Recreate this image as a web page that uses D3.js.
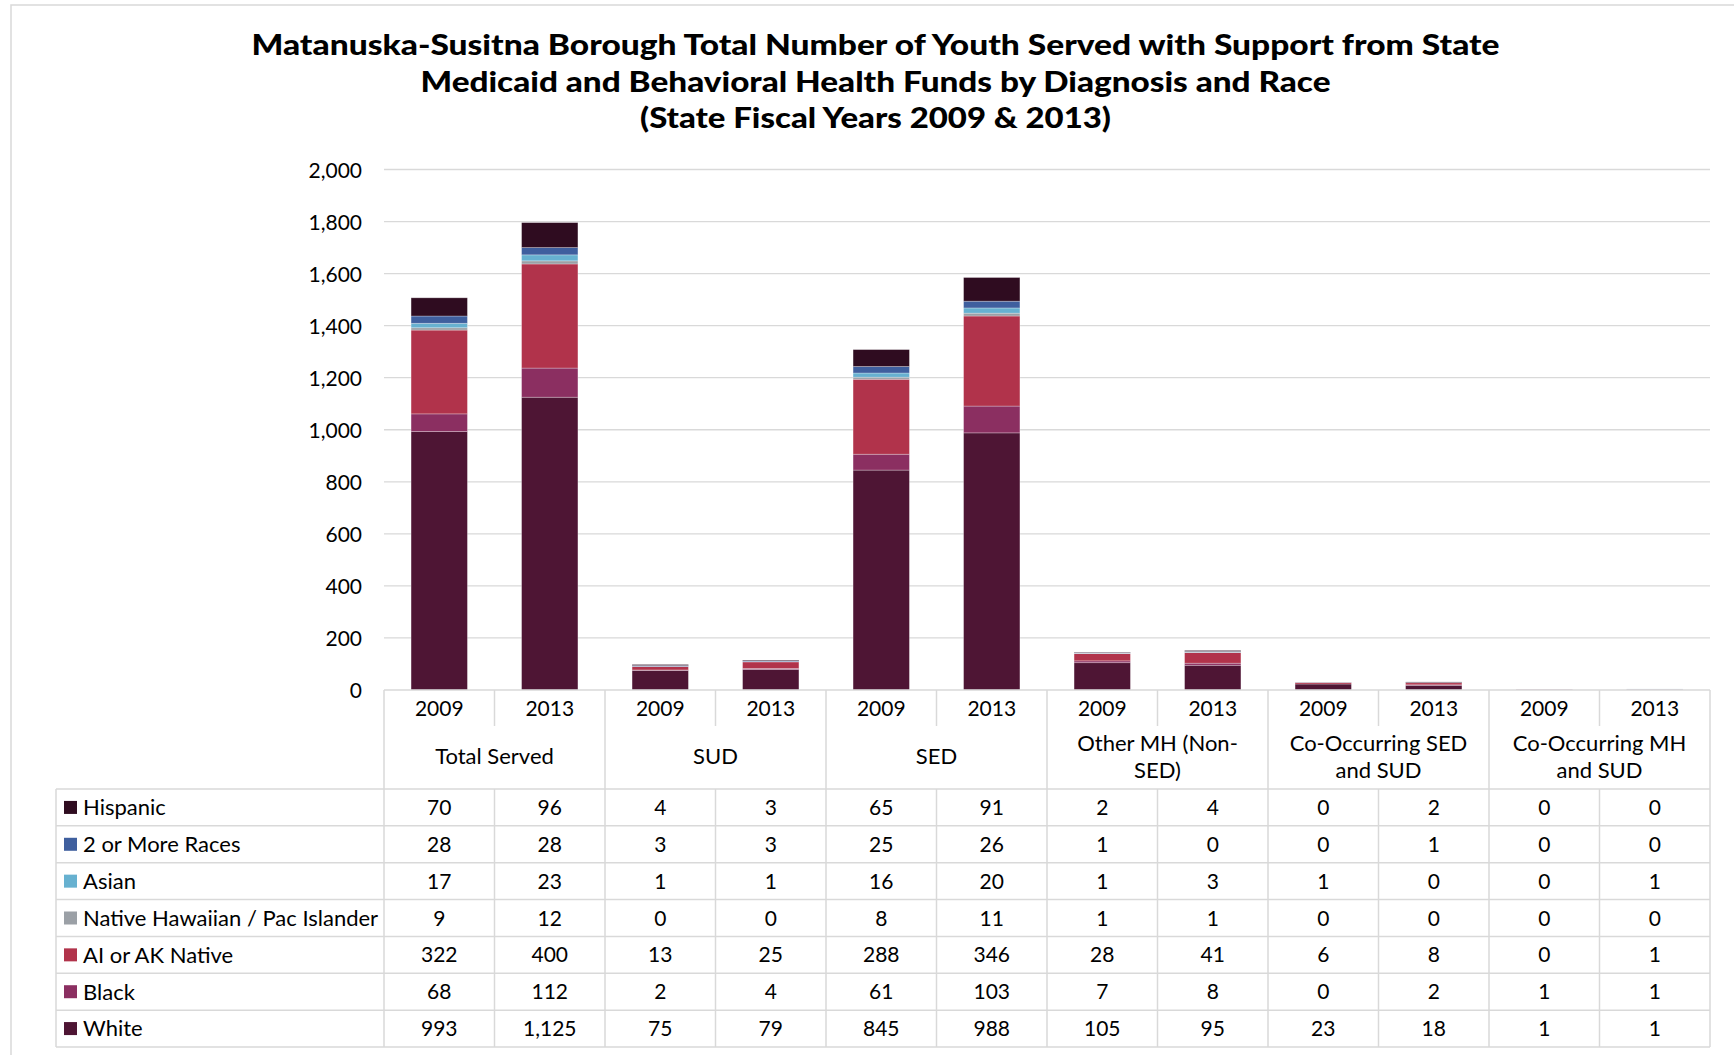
<!DOCTYPE html>
<html>
<head>
<meta charset="utf-8">
<script src="https://cdn.jsdelivr.net/npm/d3@7"></script>
<style>
  html, body { margin: 0; padding: 0; background: #fff; }
  svg { display: block; }
  text { font-family: Lato, "Open Sans", sans-serif; fill: #000; }
</style>
</head>
<body>
<svg id="chart" width="1734" height="1055"></svg>
<script>
// ---------- DATA ----------
const titleLines = [
  "Matanuska-Susitna Borough Total Number of Youth Served with Support from State",
  "Medicaid and Behavioral Health Funds by Diagnosis and Race",
  "(State Fiscal Years 2009 & 2013)"
];
const categories = ["Total Served", "SUD", "SED", "Other MH (Non-SED)", "Co-Occurring SED and SUD", "Co-Occurring MH and SUD"];
const categoryLabelLines = [["Total Served"], ["SUD"], ["SED"], ["Other MH (Non-", "SED)"], ["Co-Occurring SED", "and SUD"], ["Co-Occurring MH", "and SUD"]];
const years = ["2009", "2013"];
const yTicks = [0, 200, 400, 600, 800, 1000, 1200, 1400, 1600, 1800, 2000];

// series listed in legend order (top of stack first)
const seriesNames = ["Hispanic", "2 or More Races", "Asian", "Native Hawaiian / Pac Islander", "AI or AK Native", "Black", "White"];
const seriesColors = ["#2f0c20", "#3f5f9e", "#67b1d0", "#9ba0a6", "#b1334b", "#8b2f61", "#4e1534"];
// values per column: Total 09, Total 13, SUD 09, SUD 13, SED 09, SED 13, Other 09, Other 13, CoSED 09, CoSED 13, CoMH 09, CoMH 13
const hispanic   = [70, 96, 4, 3, 65, 91, 2, 4, 0, 2, 0, 0];
const twoOrMore  = [28, 28, 3, 3, 25, 26, 1, 0, 0, 1, 0, 0];
const asian      = [17, 23, 1, 1, 16, 20, 1, 3, 1, 0, 0, 1];
const nativeHaw  = [9, 12, 0, 0, 8, 11, 1, 1, 0, 0, 0, 0];
const aiakNative = [322, 400, 13, 25, 288, 346, 28, 41, 6, 8, 0, 1];
const black      = [68, 112, 2, 4, 61, 103, 7, 8, 0, 2, 1, 1];
const white      = [993, 1125, 75, 79, 845, 988, 105, 95, 23, 18, 1, 1];
const seriesValues = [hispanic, twoOrMore, asian, nativeHaw, aiakNative, black, white];

// ---------- LAYOUT ----------
const svg = d3.select("#chart");
const W = 1734, H = 1055;
const plotL = 384, plotR = 1710, plotT = 169.5, plotB = 690;
const tableL = 56;
const yearRowB = 726, headerB = 789, tableB = 1047;
const gridColor = "#d9d9d9";
const numSize = 21;
const labelSize = 22;

// outer border
svg.append("path")
  .attr("d", `M11,${H + 2} L11,5 L${W + 2},5`)
  .attr("fill", "none").attr("stroke", gridColor).attr("stroke-width", 1.5);

// title
const titleBase = [55, 91.7, 128.3];
const titleLen = [1248, 910, 471];
svg.selectAll("text.title").data(titleLines).join("text")
  .attr("class", "title")
  .attr("x", 875.5)
  .attr("y", (d, i) => titleBase[i])
  .attr("text-anchor", "middle")
  .attr("font-size", 29)
  .attr("font-weight", 900)
  .attr("textLength", (d, i) => titleLen[i])
  .attr("lengthAdjust", "spacingAndGlyphs")
  .text(d => d);

// scales
const cols = [];
categories.forEach((c, ci) => years.forEach(y => cols.push(ci + "|" + y)));
const x = d3.scaleBand().domain(cols).range([plotL, plotR]).paddingInner(0).paddingOuter(0);
const xBar = d3.scaleBand().domain(cols).range([plotL, plotR]).paddingInner(0.49).paddingOuter(0.245);
const xCat = d3.scaleBand().domain(categories).range([plotL, plotR]);
const y = d3.scaleLinear().domain([0, 2000]).range([plotB, plotT]);

// gridlines
svg.append("g").selectAll("line").data(yTicks.filter(t => t > 0)).join("line")
  .attr("x1", plotL).attr("x2", plotR)
  .attr("y1", d => y(d)).attr("y2", d => y(d))
  .attr("stroke", gridColor).attr("stroke-width", 1.3);

// y axis
const yAxis = d3.axisLeft(y).tickValues(yTicks).tickFormat(d3.format(",")).tickSize(0).tickPadding(0);
const gy = svg.append("g").attr("transform", "translate(362,0)").call(yAxis);
gy.select(".domain").remove();
gy.selectAll("text").attr("font-size", numSize).attr("font-family", "Lato, sans-serif").attr("fill", "#000").attr("dy", "0.36em");

// stacked bars
const rows = cols.map((c, i) => {
  const r = { col: c };
  seriesNames.forEach((s, si) => r[s] = seriesValues[si][i]);
  return r;
});
const stackKeys = seriesNames.slice().reverse(); // White at bottom
const stacked = d3.stack().keys(stackKeys)(rows);
const colorOf = d3.scaleOrdinal().domain(seriesNames).range(seriesColors);

svg.append("g").selectAll("g").data(stacked).join("g")
  .attr("fill", d => colorOf(d.key))
  .selectAll("rect").data(d => d).join("rect")
  .attr("x", d => xBar(d.data.col))
  .attr("width", xBar.bandwidth())
  .attr("y", d => y(d[1]))
  .attr("height", d => Math.max(0, y(d[0]) - y(d[1])))
  .attr("stroke", "rgba(255,255,255,0.35)")
  .attr("stroke-width", d => (d[1] - d[0]) > 0 ? 0.8 : 0);

// ---------- DATA TABLE ----------
const rowY = d3.scaleBand().domain(seriesNames).range([headerB, tableB]);
const tg = svg.append("g").attr("stroke", gridColor).attr("stroke-width", 1.5).attr("fill", "none");

// horizontal lines
tg.append("line").attr("x1", plotL).attr("x2", plotR).attr("y1", plotB).attr("y2", plotB);
tg.append("line").attr("x1", tableL).attr("x2", plotR).attr("y1", headerB).attr("y2", headerB);
seriesNames.forEach(s => {
  const yy = rowY(s) + rowY.bandwidth();
  tg.append("line").attr("x1", tableL).attr("x2", plotR).attr("y1", yy).attr("y2", yy);
});
// vertical lines: table left edges
tg.append("line").attr("x1", tableL).attr("x2", tableL).attr("y1", headerB).attr("y2", tableB);
// category boundaries
categories.forEach(c => {
  const xx = xCat(c);
  tg.append("line").attr("x1", xx).attr("x2", xx).attr("y1", plotB).attr("y2", tableB);
});
tg.append("line").attr("x1", plotR).attr("x2", plotR).attr("y1", plotB).attr("y2", tableB);
// year separators
categories.forEach((c, ci) => {
  const xx = x(ci + "|" + years[1]);
  tg.append("line").attr("x1", xx).attr("x2", xx).attr("y1", plotB).attr("y2", yearRowB);
  tg.append("line").attr("x1", xx).attr("x2", xx).attr("y1", headerB).attr("y2", tableB);
});

// year labels
svg.append("g").selectAll("text").data(cols).join("text")
  .attr("x", d => x(d) + x.bandwidth() / 2)
  .attr("y", 716)
  .attr("text-anchor", "middle")
  .attr("font-size", numSize)
  .text(d => d.split("|")[1]);

// category labels
categories.forEach((c, ci) => {
  const lines = categoryLabelLines[ci];
  const cx = xCat(c) + xCat.bandwidth() / 2;
  const bases = lines.length === 1 ? [764] : [751, 778];
  lines.forEach((ln, li) => {
    svg.append("text").attr("x", cx).attr("y", bases[li])
      .attr("text-anchor", "middle").attr("font-size", labelSize).text(ln);
  });
});

// legend column
const fmt = d3.format(",");
seriesNames.forEach((s, si) => {
  const cy = rowY(s) + rowY.bandwidth() / 2;
  svg.append("rect").attr("x", 64).attr("y", cy - 6.5).attr("width", 13).attr("height", 13).attr("fill", colorOf(s));
  svg.append("text").attr("x", 83).attr("y", cy).attr("dy", "0.36em")
    .attr("font-size", labelSize).text(s);
  cols.forEach((c, i) => {
    svg.append("text").attr("x", x(c) + x.bandwidth() / 2).attr("y", cy).attr("dy", "0.36em")
      .attr("text-anchor", "middle").attr("font-size", numSize).text(fmt(seriesValues[si][i]));
  });
});
</script>
</body>
</html>
